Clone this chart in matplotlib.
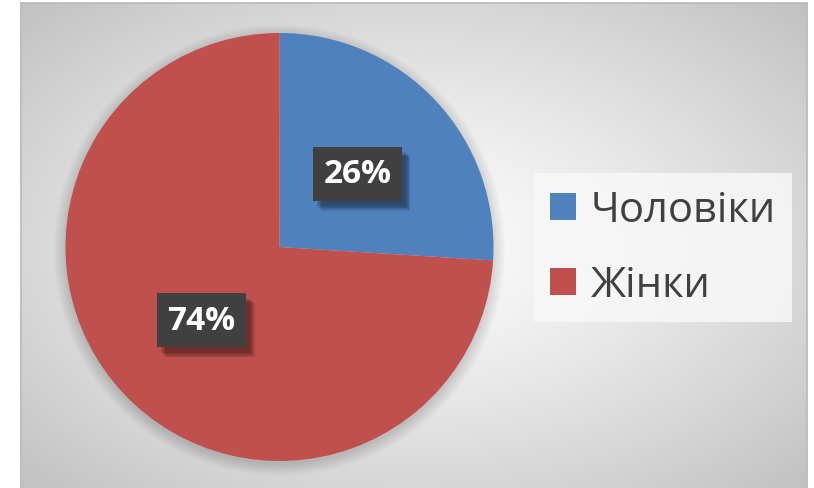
import numpy as np
import matplotlib
matplotlib.use("Agg")
import matplotlib.pyplot as plt
from matplotlib.patches import Circle
import matplotlib.patheffects as pe

plt.rcParams['font.family'] = ['Open Sans', 'DejaVu Sans']

labels = ['Чоловіки', 'Жінки']
shares = [26, 74]
colors = ['#4F81BD', '#C0504D']

W, H = 814, 489
fig = plt.figure(figsize=(W / 100, H / 100), dpi=100)
fig.patch.set_facecolor('white')

# gradient background of the chart area
bg = fig.add_axes([21 / W, 0, (807 - 21) / W, (489 - 4) / H])
yy, xx = np.mgrid[0:1:300j, 0:1:500j]
d = np.sqrt(((xx - 0.5) / 0.5) ** 2 + ((yy - 0.5) / 0.5) ** 2)
t = np.clip(d / 1.42, 0, 1)
val = 0.985 - 0.23 * t ** 1.3
bg.imshow(val, cmap='gray', vmin=0, vmax=1, aspect='auto',
          extent=[0, 1, 0, 1], interpolation='bicubic')
bg.set_xticks([])
bg.set_yticks([])
for s in ['top', 'left', 'right']:
    bg.spines[s].set_color('#b8b8b8')
    bg.spines[s].set_linewidth(1.2)
bg.spines['bottom'].set_visible(False)

# pie
cx, cy, r = 279.5, 248, 214
ax = fig.add_axes([(cx - r) / W, (H - cy - r) / H, 2 * r / W, 2 * r / H])

# soft shadow under the pie
for i in range(12):
    ax.add_patch(Circle((0.0, -0.015), 1 + 0.005 * i, color='black',
                        alpha=0.01, lw=0, clip_on=False, zorder=0))

wedges, texts, autotexts = ax.pie(
    shares, colors=colors, startangle=90, counterclock=False,
    autopct='%d%%', pctdistance=0.5, radius=1, frame=True,
    wedgeprops=dict(linewidth=0, zorder=2),
    textprops=dict(color='white', fontsize=24, fontweight='bold'))
ax.set_xlim(-1, 1)
ax.set_ylim(-1, 1)
ax.axis('off')

shadow = [pe.withSimplePatchShadow(offset=(o, -o - 1), shadow_rgbFace='black', alpha=0.12)
          for o in (6, 5, 4, 3)]
for at in autotexts:
    at.set_bbox(dict(boxstyle='square,pad=0.32', facecolor='#404040',
                     edgecolor='none', linewidth=0))
    at.set_zorder(5)
    at.get_bbox_patch().set_path_effects(shadow + [pe.Normal()])

leg = fig.legend(wedges, labels, loc='center',
                 bbox_to_anchor=(663 / W, 1 - 248.5 / H),
                 fontsize=30, frameon=True, fancybox=False,
                 handlelength=0.62, handleheight=0.62, handletextpad=0.35,
                 labelspacing=0.8, borderpad=0.38, borderaxespad=0)
frame = leg.get_frame()
frame.set_facecolor('#f8f8f8')
frame.set_alpha(0.85)
frame.set_edgecolor('none')
for txt in leg.get_texts():
    txt.set_color('#404040')

fig.savefig('out.png', dpi=100)
